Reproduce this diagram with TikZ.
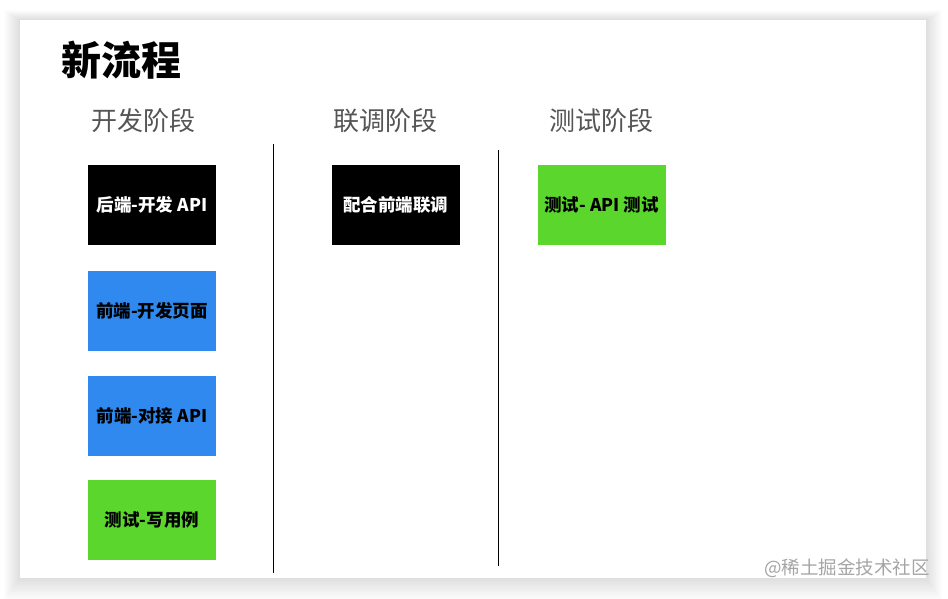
\documentclass[tikz,border=0pt]{standalone}
\usepackage{fontspec}
\setmainfont{Noto Sans CJK SC}
\newfontfamily\cjk{Noto Sans CJK SC}
\definecolor{bblue}{RGB}{47,137,238}
\definecolor{bgreen}{RGB}{90,214,44}
\definecolor{hgray}{RGB}{85,85,85}
\definecolor{wgray}{RGB}{165,165,165}
\tikzset{
  box/.style={minimum width=128pt, minimum height=80pt, inner sep=0pt, font=\cjk\bfseries\fontsize{17.5}{19}\selectfont},
  blackbox/.style={box, fill=black, text=white},
  bluebox/.style={box, fill=bblue, text=black},
  greenbox/.style={box, fill=bgreen, text=black},
  phase/.style={font=\cjk\fontsize{26}{28}\selectfont, text=hgray, inner sep=0pt},
  divider/.style={line width=1pt, black}
}
\begin{document}
\begin{tikzpicture}[x=1pt,y=-1pt]
\useasboundingbox (0,0) rectangle (948,598);
\fill[white] (0,0) rectangle (948,598);
% shadow
\foreach \d in {1,2,...,16}{
  \fill[black,opacity=0.006] (20-\d,20-\d*0.6) rectangle (926+\d,578+\d*1.4);
}
\fill[white] (20,20) rectangle (926,578);
% title
\node[anchor=west, font=\cjk\bfseries\fontsize{40}{44}\selectfont, inner sep=0pt] (title) at (61,60) {新流程};
% phases
\node[phase] (p1) at (143,121) {开发阶段};
\node[phase] (p2) at (385,121) {联调阶段};
\node[phase] (p3) at (601,121) {测试阶段};
% boxes
\node[blackbox] (b1) at (152,205) {后端-开发 API};
\node[bluebox] (b2) at (152,311) {前端-开发页面};
\node[bluebox] (b3) at (152,416) {前端-对接 API};
\node[greenbox] (b4) at (152,520) {测试-写用例};
\node[blackbox] (c1) at (395.5,205) {配合前端联调};
\node[greenbox] (d1) at (601.5,205) {测试- API 测试};
% dividers
\coordinate (l1a) at (273,144);
\coordinate (l1b) at (273,573);
\coordinate (l2a) at (498,150);
\coordinate (l2b) at (498,566);
\draw[divider] (l1a) -- (l1b);
\draw[divider] (l2a) -- (l2b);
% watermark
\node[anchor=east, font=\cjk\fontsize{18.5}{20}\selectfont, text=wgray, inner sep=0pt] (wm) at (930,568) {@稀土掘金技术社区};
\end{tikzpicture}
\end{document}
